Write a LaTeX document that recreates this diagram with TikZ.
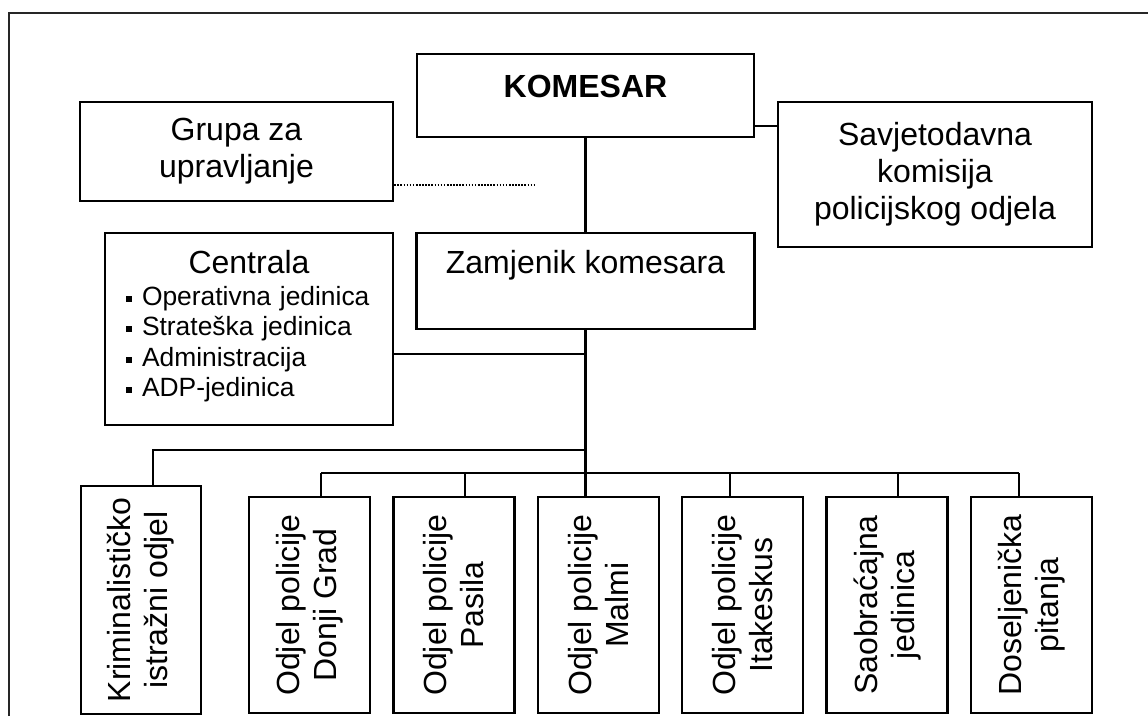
\documentclass[tikz,border=0pt]{standalone}
\usepackage{fontspec}
\setmainfont{Liberation Sans}
\usetikzlibrary{calc}
\newcommand{\kvad}{\rule[3.5pt]{6pt}{6pt}\hspace{10pt}}

\begin{document}
\begin{tikzpicture}[x=1pt, y=-1pt, line width=2.4pt,
	okvir/.style={draw, inner sep=0pt, align=center, font=\fontsize{32}{37}\selectfont},
	odjel/.style={okvir, rotate=90, minimum width=216pt, minimum height=121pt}]
			\useasboundingbox (0,0) rectangle (1148,716);
			\draw[line width=2pt, black!85] (9,716) -- (9,13) -- (1148,13);
			\node[okvir, minimum width=337pt, minimum height=83pt, text height=23pt, text depth=20pt, font=\fontsize{32}{37}\selectfont\bfseries] (komesar) at (585.5,95.5) {KOMESAR};
			\node[okvir, minimum width=313pt, minimum height=99pt] (grupa) at (236.5,151.5) {Grupa za\\upravljanje};
			\node[okvir, minimum width=314pt, minimum height=145pt] (savjet) at (935,174.5) {Savjetodavna\\komisija\\policijskog odjela};
			\node[okvir, minimum width=338pt, minimum height=96pt, text height=23pt, text depth=39pt] (zamjenik) at (585.5,281) {Zamjenik komesara};
			\node[okvir, minimum width=288pt, minimum height=192pt, text width=246pt, align=left, text height=23pt, text depth=135pt, font=\fontsize{26.4}{30.5}\selectfont] (centrala) at (249,329) {\makebox[\linewidth]{\fontsize{32}{37}\selectfont Centrala}\\[1.5pt]\kvad Operativna jedinica\\\kvad Strateška jedinica\\\kvad Administracija\\\kvad ADP-jedinica};
			\node[odjel, minimum width=228pt, minimum height=120pt] (krim) at (141,600) {Kriminalističko\\istražni odjel};
			\node[odjel] (donji) at (309.5,605) {Odjel policije\\Donji Grad};
			\node[odjel] (pasila) at (453.9,605) {Odjel policije\\Pasila};
			\node[odjel] (malmi) at (598.3,605) {Odjel policije\\Malmi};
			\node[odjel] (itak) at (742.7,605) {Odjel policije\\Itakeskus};
			\node[odjel] (saob) at (887.1,605) {Saobraćajna\\jedinica};
			\node[odjel] (dosel) at (1031.5,605) {Doseljenička\\pitanja};
			\coordinate (kb) at (153,450);
			\coordinate (bl) at (321,473);
			\coordinate (bd) at (1019,473);
			\coordinate (tackice) at (535,185);
			\draw (komesar.south) -- (zamjenik.north);
			\draw (komesar.east |- 0,126) -- (savjet.west |- 0,126);
			\draw[line width=1.6pt, dash pattern=on 1.6pt off 1.5pt] (grupa.east |- tackice) -- (tackice);
			\draw (zamjenik.south) -- (zamjenik.south |- malmi.east);
			\draw (centrala.east |- 0,354) -- (zamjenik.south |- 0,354);
			\draw (zamjenik.south |- kb) -- (kb) -- (kb |- krim.east);
			\draw (bl) -- (bd);
			\draw (bl) -- (bl |- donji.east);
			\draw (465,473) -- (465,473 |- pasila.east);
			\draw (730,473) -- (730,473 |- itak.east);
			\draw (898,473) -- (898,473 |- saob.east);
			\draw (bd) -- (bd |- dosel.east);
		\end{tikzpicture}
\end{document}
